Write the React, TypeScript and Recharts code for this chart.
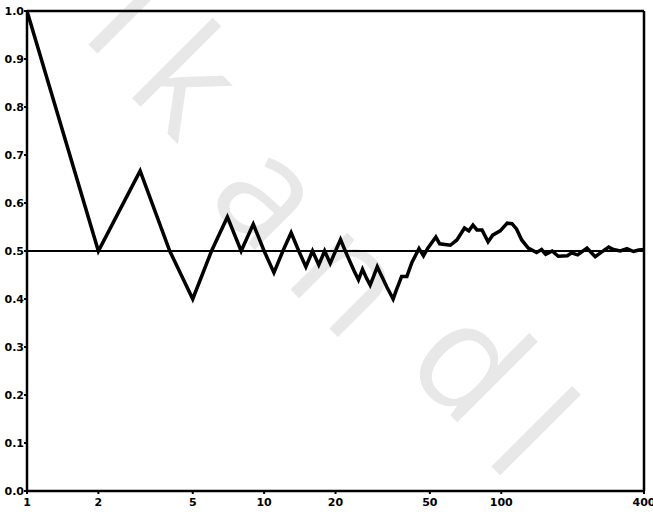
import React from 'react';
import { LineChart, Line, XAxis, YAxis, ReferenceLine } from 'recharts';

// number of throws (log axis) and running share of heads
const throws = [
  1, 2, 3, 4, 5, 6, 7, 8, 9, 10, 11, 12, 13, 14, 15, 16, 17, 18, 19, 20,
  21, 22, 23, 24, 25, 26, 27, 28, 29, 30, 31, 32, 33, 34, 35, 36, 37, 38,
  40, 42, 45, 47, 49, 53, 55, 61, 65, 70, 73, 76, 79, 83, 88, 92, 99, 106,
  111, 116, 122, 130, 141, 148, 154, 164, 174, 190, 198, 210, 230, 249, 262,
  284, 297, 318, 339, 361, 380, 400,
];
const headShare = [
  1.0, 0.5, 0.667, 0.5, 0.4, 0.5, 0.571, 0.5, 0.556, 0.5, 0.455, 0.5, 0.538,
  0.5, 0.467, 0.5, 0.471, 0.5, 0.474, 0.5, 0.524, 0.5, 0.478, 0.458, 0.44,
  0.462, 0.444, 0.429, 0.448, 0.467, 0.452, 0.438, 0.424, 0.412, 0.4, 0.417,
  0.432, 0.447, 0.447, 0.476, 0.505, 0.49, 0.506, 0.529, 0.515, 0.512, 0.523,
  0.548, 0.542, 0.554, 0.544, 0.544, 0.519, 0.533, 0.542, 0.558, 0.557, 0.546,
  0.523, 0.506, 0.497, 0.503, 0.493, 0.5, 0.489, 0.49, 0.496, 0.492, 0.506,
  0.488, 0.496, 0.508, 0.503, 0.5, 0.505, 0.499, 0.502, 0.503,
];
const xTicks = [1, 2, 5, 10, 20, 50, 100, 400];
const yTicks = [0, 0.1, 0.2, 0.3, 0.4, 0.5, 0.6, 0.7, 0.8, 0.9, 1.0];

// watermark letters
const markLetters = ['I', 'k', 'a', 'n', 'd', 'l'];
const markX = [134, 192, 275, 355, 475, 537];
const markY = [8, 76, 188, 272, 358, 430];

const rows = throws.map((n, i) => ({ n, share: headShare[i] }));

const tickStyle = {
  fontFamily: 'DejaVu Sans',
  fontWeight: 'bold' as const,
  fontSize: 11,
  fill: '#000',
};

export default function App() {
  return (
    <div style={{ position: 'absolute', left: 0, top: 0, width: 653, height: 516, background: '#fff' }}>
      <svg width={653} height={516} style={{ position: 'absolute', left: 0, top: 0 }}>
        {markLetters.map((ch, i) => (
          <text
            key={i}
            x={markX[i]}
            y={markY[i]}
            transform={`rotate(45 ${markX[i]} ${markY[i]})`}
            textAnchor="middle"
            dominantBaseline="central"
            fontFamily="Open Sans"
            fontSize={150}
            fill="#e8e8e8"
          >
            {ch}
          </text>
        ))}
      </svg>
      <div style={{ position: 'absolute', left: 0, top: 0 }}>
        <LineChart
          width={653}
          height={516}
          data={rows}
          margin={{ top: 11, right: 9, bottom: 0, left: 0 }}
        >
          <XAxis
            dataKey="n"
            type="number"
            scale="log"
            domain={[1, 400]}
            ticks={xTicks}
            allowDataOverflow
            height={25}
            tickSize={3}
            tickMargin={4}
            axisLine={{ stroke: '#000', strokeWidth: 2.5 }}
            tickLine={{ stroke: '#000', strokeWidth: 2 }}
            tick={tickStyle}
            interval={0}
          />
          <YAxis
            type="number"
            domain={[0, 1]}
            ticks={yTicks}
            width={27}
            tickSize={3}
            tickMargin={0}
            axisLine={{ stroke: '#000', strokeWidth: 2.5 }}
            tickLine={{ stroke: '#000', strokeWidth: 2 }}
            tick={tickStyle}
            tickFormatter={(v: number) => v.toFixed(1)}
            interval={0}
          />
          <ReferenceLine y={1} stroke="#000" strokeWidth={2.5} />
          <ReferenceLine x={400} stroke="#000" strokeWidth={2.5} />
          <ReferenceLine y={0.5} stroke="#000" strokeWidth={2} />
          <Line
            type="linear"
            dataKey="share"
            stroke="#000"
            strokeWidth={3.5}
            strokeLinejoin="miter"
            dot={false}
            isAnimationActive={false}
          />
        </LineChart>
      </div>
    </div>
  );
}
